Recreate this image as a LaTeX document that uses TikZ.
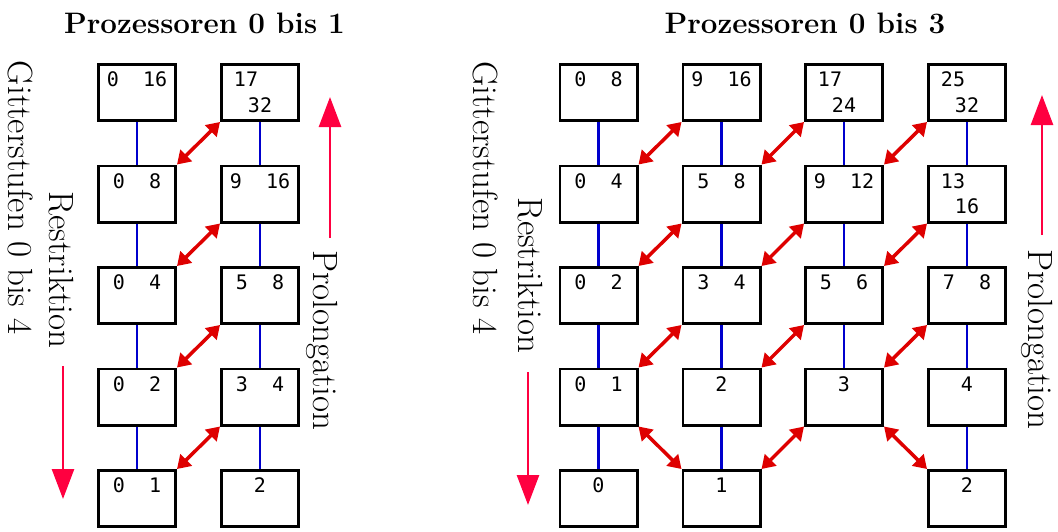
\documentclass[tikz,border=0pt]{standalone}
\usepackage{fontspec}
\newfontfamily\monofnt{DejaVu Sans Mono}
\usetikzlibrary{arrows.meta}
\definecolor{arrred}{RGB}{222,0,0}
\definecolor{bigred}{RGB}{255,0,64}
\definecolor{linkblue}{RGB}{0,0,205}
\tikzset{
 gbox/.style={draw=black, line width=2.8pt, minimum width=77.2pt, minimum height=56.2pt, inner sep=0pt},
 num/.style={font=\monofnt\fontsize{20}{24}\selectfont, inner sep=0pt, anchor=base},
 vlink/.style={draw=linkblue, line width=2.4pt},
 dlink/.style={draw=arrred, line width=3.5pt, {Triangle[length=13pt,width=16pt]}-{Triangle[length=13pt,width=16pt]}},
 bigarrow/.style={draw=bigred, line width=2.6pt, -{Triangle[length=30pt,width=22pt]}},
 title/.style={font=\bfseries\fontsize{29.6}{34}\selectfont, inner sep=0pt, anchor=base},
 side/.style={font=\fontsize{35}{40}\selectfont, inner sep=0pt, rotate=-90},
}
\newcommand\pbox[4]{%
  \node[gbox] (#1) at (#2,#3) {};
  \node[num] (#1t) at (#2,#3-6) {#4};
}
\newcommand\qbox[5]{%
  \node[gbox] (#1) at (#2,#3) {};
  \node[num] (#1a) at (#2-14,#3-6) {#4};
  \node[num] (#1b) at (#2,#3+19.5) {#5};
}
\begin{document}
\begin{tikzpicture}[x=1pt,y=-1pt]
\useasboundingbox (0,0) rectangle (1058,531);
% titles
\node[title] (tl) at (204.5,33) {Prozessoren 0 bis 1};
\node[title] (tr) at (805,33) {Prozessoren 0 bis 3};
% side labels
\node[side] (gl) at (20.5,197.5) {Gitterstufen 0 bis 4};
\node[side] (rl) at (61,270) {Restriktion};
\node[side] (pl) at (322.5,340.5) {Prolongation};
\node[side] (gr) at (485.5,198) {Gitterstufen 0 bis 4};
\node[side] (rr) at (530,275.5) {Restriktion};
\node[side] (pr) at (1037.5,339.5) {Prolongation};
% big arrows
\coordinate (ra1) at (63,366); \coordinate (ra2) at (63,499);
\coordinate (pa1) at (330,238); \coordinate (pa2) at (330,97);
\coordinate (rb1) at (528,372); \coordinate (rb2) at (528,505);
\coordinate (pb1) at (1042,235); \coordinate (pb2) at (1042,95);
\draw[bigarrow] (ra1) -- (ra2);
\draw[bigarrow] (pa1) -- (pa2);
\draw[bigarrow] (rb1) -- (rb2);
\draw[bigarrow] (pb1) -- (pb2);
% left boxes
\pbox{L11}{137}{92.5}{0~~16}
\qbox{L12}{260}{92.5}{17}{32}
\pbox{L21}{137}{194}{0~~8}
\pbox{L22}{260}{194}{9~~16}
\pbox{L31}{137}{295.5}{0~~4}
\pbox{L32}{260}{295.5}{5~~8}
\pbox{L41}{137}{397}{0~~2}
\pbox{L42}{260}{397}{3~~4}
\pbox{L51}{137}{498.5}{0~~1}
\pbox{L52}{260}{498.5}{2}
% right boxes
\pbox{R11}{598.5}{92.5}{0~~8}
\pbox{R12}{721.5}{92.5}{9~~16}
\qbox{R13}{844}{92.5}{17}{24}
\qbox{R14}{967}{92.5}{25}{32}
\pbox{R21}{598.5}{194}{0~~4}
\pbox{R22}{721.5}{194}{5~~8}
\pbox{R23}{844}{194}{9~~12}
\qbox{R24}{967}{194}{13}{16}
\pbox{R31}{598.5}{295.5}{0~~2}
\pbox{R32}{721.5}{295.5}{3~~4}
\pbox{R33}{844}{295.5}{5~~6}
\pbox{R34}{967}{295.5}{7~~8}
\pbox{R41}{598.5}{397}{0~~1}
\pbox{R42}{721.5}{397}{2}
\pbox{R43}{844}{397}{3}
\pbox{R44}{967}{397}{4}
\pbox{R51}{598.5}{498.5}{0}
\pbox{R52}{721.5}{498.5}{1}
\pbox{R54}{967}{498.5}{2}
% blue links
\foreach \c in {1,2}{
  \foreach \r/\s in {1/2,2/3,3/4,4/5}{
    \draw[vlink] (L\r\c.south) -- (L\s\c.north);
  }
}
\foreach \c in {1,2,4}{
  \foreach \r/\s in {1/2,2/3,3/4,4/5}{
    \draw[vlink] (R\r\c.south) -- (R\s\c.north);
  }
}
\foreach \r/\s in {1/2,2/3,3/4}{
  \draw[vlink] (R\r3.south) -- (R\s3.north);
}
% red links
\foreach \r/\s in {1/2,2/3,3/4,4/5}{
  \draw[dlink] (L\r2.south west) -- (L\s1.north east);
}
\foreach \r/\s in {1/2,2/3,3/4}{
  \foreach \c/\d in {2/1,3/2,4/3}{
    \draw[dlink] (R\r\c.south west) -- (R\s\d.north east);
  }
}
\draw[dlink] (R41.south east) -- (R52.north west);
\draw[dlink] (R43.south west) -- (R52.north east);
\draw[dlink] (R43.south east) -- (R54.north west);
\end{tikzpicture}
\end{document}
